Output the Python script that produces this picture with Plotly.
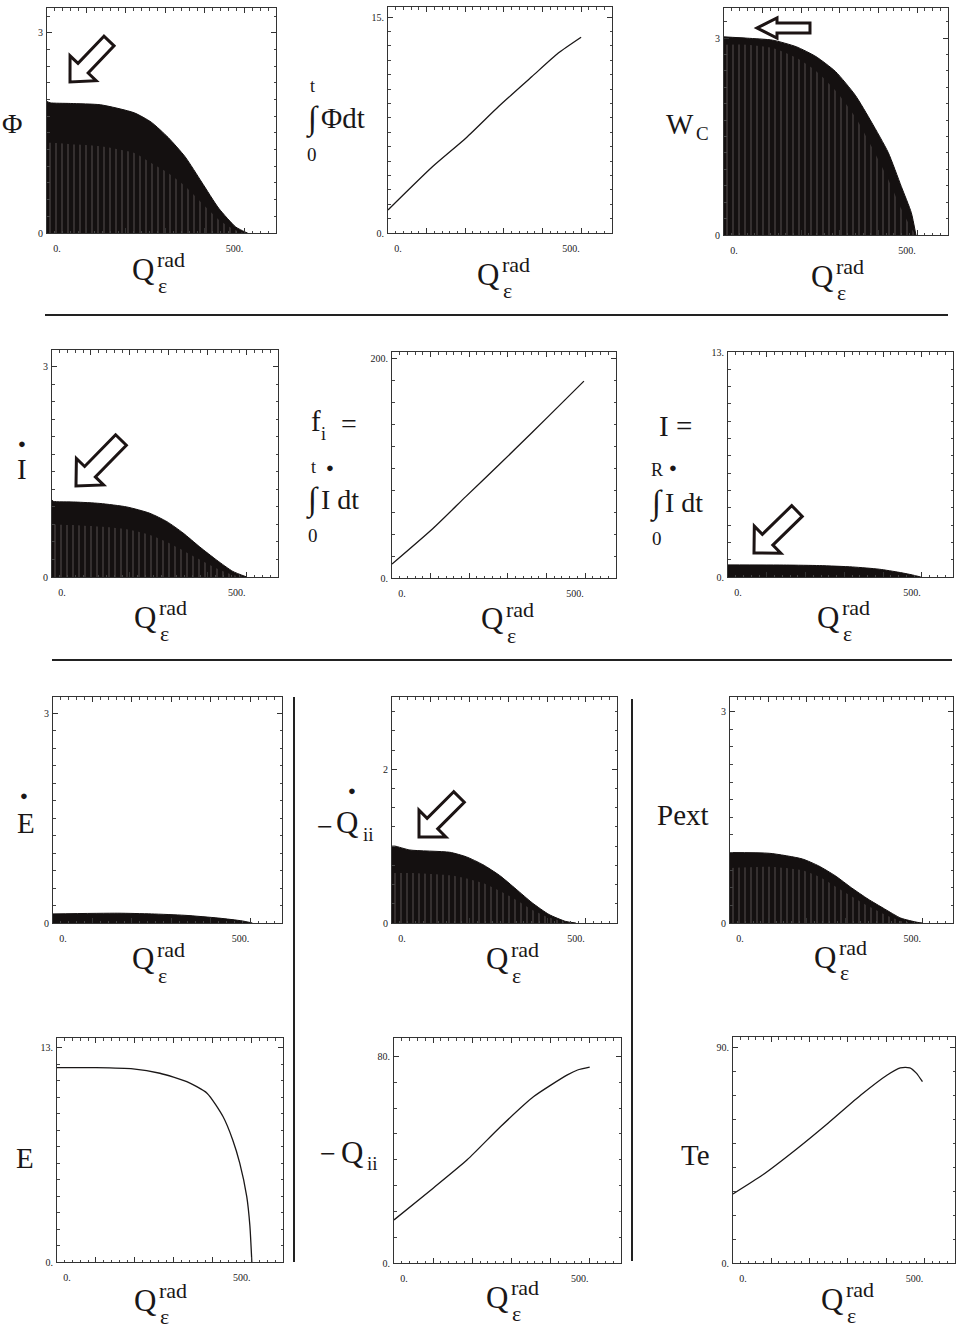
import plotly.graph_objects as go

W, H = 957, 1334
FONT = "Liberation Serif"
INK = "#1a1717"
FILL = "#141010"

# ---------------- data (x = Q_eps^rad) ----------------
# Phi: oscillating signal drawn as its envelope, with the streaked core below
phi_x = [0, 8, 60, 136, 221, 264, 307, 350, 392, 435, 478, 500, 508]
phi_y = [1.97, 1.95, 1.94, 1.92, 1.80, 1.66, 1.43, 1.14, 0.76, 0.37, 0.09, 0.02, 0.0]
phi_core = [1.35, 1.35, 1.33, 1.30, 1.20, 1.05, 0.90, 0.70, 0.45, 0.20, 0.04, 0.0, 0.0]

# integral of Phi dt
intphi_x = [0, 115, 202, 287, 372, 441, 500]
intphi_y = [1.6, 4.6, 6.6, 8.8, 10.85, 12.5, 13.6]

# W_C
wc_x = [0, 60, 126, 187, 238, 289, 340, 382, 425, 459, 485, 497]
wc_y = [3.02, 3.0, 2.97, 2.87, 2.72, 2.49, 2.13, 1.72, 1.26, 0.74, 0.34, 0.0]
wc_core = [2.9, 2.9, 2.85, 2.7, 2.5, 2.2, 1.8, 1.35, 0.85, 0.4, 0.1, 0.0]

# I-dot
idot_x = [0, 3, 60, 123, 192, 251, 295, 336, 379, 423, 464, 500]
idot_y = [1.1, 1.08, 1.07, 1.05, 1.0, 0.91, 0.79, 0.63, 0.43, 0.24, 0.08, 0.0]
idot_core = [0.75, 0.75, 0.74, 0.72, 0.68, 0.6, 0.5, 0.38, 0.25, 0.12, 0.03, 0.0]

# f_i = integral of I-dot over t
fi_x = [0, 106, 191, 277, 362, 448, 497]
fi_y = [12.7, 45, 74, 103, 132, 162, 179]

# I = integral of I-dot over R
iint_x = [0, 151, 236, 321, 390, 441, 475, 497]
iint_y = [0.7, 0.69, 0.66, 0.58, 0.45, 0.27, 0.12, 0.0]

# E-dot
edot_x = [0, 164, 249, 334, 420, 479, 505]
edot_y = [0.13, 0.14, 0.13, 0.11, 0.07, 0.03, 0.0]

# -Q-dot_ii
qdot_x = [0, 8, 46, 149, 192, 234, 277, 320, 362, 405, 448, 474]
qdot_y = [1.0, 1.0, 0.95, 0.92, 0.86, 0.76, 0.62, 0.44, 0.26, 0.11, 0.02, 0.0]
qdot_core = [0.65, 0.65, 0.65, 0.62, 0.58, 0.52, 0.42, 0.3, 0.17, 0.07, 0.01, 0.0]

# Pext
pext_x = [0, 103, 188, 231, 274, 316, 359, 402, 444, 487, 500]
pext_y = [1.0, 0.99, 0.91, 0.81, 0.67, 0.5, 0.34, 0.2, 0.07, 0.01, 0.0]
pext_core = [0.78, 0.8, 0.75, 0.66, 0.52, 0.38, 0.24, 0.12, 0.03, 0.0, 0.0]

# E
e_x = [0, 100, 195, 264, 333, 385, 426, 451, 469, 487, 495, 500]
e_y = [11.8, 11.8, 11.73, 11.46, 10.95, 10.25, 8.83, 7.41, 6.0, 3.97, 2.2, 0.0]

# -Q_ii
q_x = [0, 100, 187, 272, 357, 443, 469, 500]
q_y = [16.7, 29.0, 40.0, 52.8, 64.5, 72.9, 74.8, 75.9]

# Te
te_x = [0, 77, 163, 249, 334, 403, 437, 462, 479, 495]
te_y = [28.9, 36.8, 47.3, 58.6, 70.3, 78.7, 81.7, 81.7, 79.5, 75.9]

# x-axis ticks shared by every panel
x_tickvals = [0, 100, 200, 300, 400, 500]
x_ticktext = ["\u2007\u2007\u2007\u20070.", " ", " ", " ", " ", "500.\u2007\u2007\u2007\u2007"]

# ---------------- panel layout (pixel boxes) ----------------
panels = [
    # x, y, core (streaked part) or None, filled, box(x0, x1, top, bottom),
    # ytop, ytickvals, yticktext, yminor
    (phi_x, phi_y, phi_core, True, (47, 276, 8, 233), 3.37, [0, 3], ["0", "3"], 0.25),
    (intphi_x, intphi_y, None, False, (388, 612, 7, 233), 15.7, [0, 15], ["0.", "15."], 1),
    (wc_x, wc_y, wc_core, True, (724, 948, 8, 235), 3.46, [0, 3], ["0", "3"], 0.25),
    (idot_x, idot_y, idot_core, True, (52, 278, 350, 577), 3.24, [0, 3], ["0", "3"], 0.25),
    (fi_x, fi_y, None, False, (392, 616, 352, 578), 205.5, [0, 200], ["0.", "200."], 20),
    (iint_x, iint_y, None, True, (728, 953, 352, 577), 13.0, [0, 13], ["0.", "13."], 1),
    (edot_x, edot_y, None, True, (53, 282, 697, 923), 3.23, [0, 3], ["0", "3"], 0.25),
    (qdot_x, qdot_y, qdot_core, True, (392, 617, 697, 923), 2.94, [0, 2], ["0", "2"], 0.25),
    (pext_x, pext_y, pext_core, True, (730, 953, 697, 923), 3.21, [0, 3], ["0", "3"], 0.25),
    (e_x, e_y, None, False, (57, 283, 1038, 1262), 13.6, [0, 13], ["0.", "13."], 1),
    (q_x, q_y, None, False, (394, 621, 1038, 1263), 87.2, [0, 80], ["0.", "80."], 10),
    (te_x, te_y, None, False, (733, 955, 1037, 1263), 94.6, [0, 90], ["0.", "90."], 10),
]

# centre of the "Q" of each x-axis title (pixels)
q_pos = [(143, 269), (488, 275), (822, 277),
         (145, 617), (492, 619), (828, 617),
         (143, 959), (497, 959), (825, 957),
         (145, 1300), (497, 1297), (832, 1299)]


def px(x):
    return x / W


def py(y):
    return 1 - y / H


fig = go.Figure()
layout_axes = {}
for i, (xs, ys, core, filled, box, ytop, yt, ytt, yminor) in enumerate(panels):
    k = "" if i == 0 else str(i + 1)
    x0, x1, top, bottom = box
    if filled:
        fig.add_trace(go.Scatter(
            x=xs, y=ys, mode="lines", fill="tozeroy", fillcolor=FILL,
            line=dict(color=FILL, width=1, shape="spline", smoothing=0.6),
            xaxis="x" + k, yaxis="y" + k, hoverinfo="skip", showlegend=False))
        if core is not None:
            fig.add_trace(go.Scatter(
                x=xs, y=core, mode="lines", fill="tozeroy",
                fillpattern=dict(shape="|", bgcolor=FILL, fgcolor="#a39b9b",
                                 size=6, solidity=0.15),
                line=dict(width=0, shape="spline", smoothing=0.6),
                xaxis="x" + k, yaxis="y" + k, hoverinfo="skip", showlegend=False))
    else:
        fig.add_trace(go.Scatter(
            x=xs, y=ys, mode="lines",
            line=dict(color=INK, width=1.3, shape="spline", smoothing=0.6),
            xaxis="x" + k, yaxis="y" + k, hoverinfo="skip", showlegend=False))
    common = dict(showline=True, linecolor="#333", linewidth=1, mirror="ticks",
                  ticks="inside", ticklen=5, tickcolor="#333", tickwidth=1,
                  showgrid=False, zeroline=False, fixedrange=True,
                  tickfont=dict(family=FONT, size=10, color="#222"))
    layout_axes["xaxis" + k] = dict(
        domain=[px(x0), px(x1)], range=[0, 580], anchor="y" + k,
        tickmode="array", tickvals=x_tickvals, ticktext=x_ticktext, ticklabelstandoff=6,
        minor=dict(ticks="inside", dtick=20, tick0=0, ticklen=2.5, tickcolor="#444"),
        **common)
    layout_axes["yaxis" + k] = dict(
        domain=[py(bottom), py(top)], range=[0, ytop], anchor="x" + k,
        tickmode="array", tickvals=yt, ticktext=ytt, ticklabelstandoff=1,
        minor=dict(ticks="inside", dtick=yminor, tick0=0, ticklen=2.5, tickcolor="#444"),
        **common)

annotations = []


def ann(text, x, y, size, xanchor="center"):
    annotations.append(dict(text=text, x=px(x), y=py(y), xref="paper", yref="paper",
                            showarrow=False, xanchor=xanchor, yanchor="middle",
                            font=dict(family=FONT, size=size, color=INK)))


DOT = "\u25cf"

# x-axis titles: Q with epsilon subscript and "rad" superscript
for qx, qy in q_pos:
    ann("Q", qx, qy, 31)
    ann("rad", qx + 12, qy - 10, 22, "left")
    ann("\u03b5", qx + 13, qy + 16, 22, "left")

# y-axis titles
ann("\u03a6", 12, 124, 28)

ann("t", 312, 86, 18)
ann("\u222b", 312, 119, 33)
ann("\u03a6dt", 319, 118, 29, "left")
ann("0", 312, 155, 19)

ann("W", 680, 124, 29)
ann("C", 694, 133, 19, "left")

ann(DOT, 22, 443, 13)
ann("I", 22, 469, 29)

ann("f", 316, 421, 29)
ann("i", 323, 434, 18)
ann("=", 349, 423, 28)
ann("t", 313, 467, 18)
ann(DOT, 330, 467, 13)
ann("\u222b", 312, 500, 33)
ann("I dt", 319, 499, 28, "left")
ann("0", 313, 535, 19)

ann("I =", 675, 426, 29)
ann("R", 657, 470, 18)
ann(DOT, 673, 468, 13)
ann("\u222b", 656, 503, 33)
ann("I dt", 663, 502, 28, "left")
ann("0", 657, 538, 19)

ann(DOT, 24, 796, 13)
ann("E", 26, 823, 29)

ann("\u2212", 325, 826, 28)
ann(DOT, 352, 790, 13)
ann("Q", 347, 823, 31)
ann("ii", 361, 834, 19, "left")

ann("Pext", 683, 815, 29)

ann("E", 25, 1158, 29)

ann("\u2212", 328, 1153, 28)
ann("Q", 352, 1152, 31)
ann("ii", 365, 1163, 19, "left")

ann("Te", 695, 1155, 29)

# separators between the groups of panels
shapes = []


def hline(y, xa, xb, w=2):
    shapes.append(dict(type="line", xref="paper", yref="paper",
                       x0=px(xa), x1=px(xb), y0=py(y), y1=py(y),
                       line=dict(color="#222", width=w)))


def vline(x, ya, yb, w=2):
    shapes.append(dict(type="line", xref="paper", yref="paper",
                       x0=px(x), x1=px(x), y0=py(ya), y1=py(yb),
                       line=dict(color="#222", width=w)))


hline(315, 45, 948)
hline(660, 52, 952)
vline(294, 697, 1262)
vline(632, 699, 1261)


# hollow block arrows pointing at the envelopes
def arrow(tip, tail, head_len, head_half, shaft_half):
    tx, ty = tip
    cx, cy = tail
    dx, dy = tx - cx, ty - cy
    L = (dx * dx + dy * dy) ** 0.5
    ux, uy = dx / L, dy / L
    nx, ny = -uy, ux
    bx, by = tx - head_len * ux, ty - head_len * uy
    pts = [
        (cx + shaft_half * nx, cy + shaft_half * ny),
        (bx + shaft_half * nx, by + shaft_half * ny),
        (bx + head_half * nx, by + head_half * ny),
        (tx, ty),
        (bx - head_half * nx, by - head_half * ny),
        (bx - shaft_half * nx, by - shaft_half * ny),
        (cx - shaft_half * nx, cy - shaft_half * ny),
    ]
    path = "M " + " L ".join(f"{px(a):.5f},{py(b):.5f}" for a, b in pts) + " Z"
    shapes.append(dict(type="path", xref="paper", yref="paper", path=path,
                       fillcolor="white", line=dict(color="#1c1414", width=3)))


arrow((70, 82), (109, 41), 19, 18, 7)
arrow((757, 28), (810, 28), 20, 10, 5)
arrow((76, 486), (121, 440), 20, 19, 7.5)
arrow((754, 553), (797, 511), 19, 19, 7.5)
arrow((419, 837), (459, 797), 19, 19, 7.5)

fig.update_layout(
    width=W, height=H, autosize=False,
    margin=dict(l=0, r=0, t=0, b=0, autoexpand=False),
    paper_bgcolor="white", plot_bgcolor="white",
    showlegend=False,
    annotations=annotations, shapes=shapes,
    **layout_axes,
)

# the page body gets no default margin so the figure sits at the window origin
fig.write_html("out.html", config={"displayModeBar": False},
               post_script="document.body.style.margin='0';")
